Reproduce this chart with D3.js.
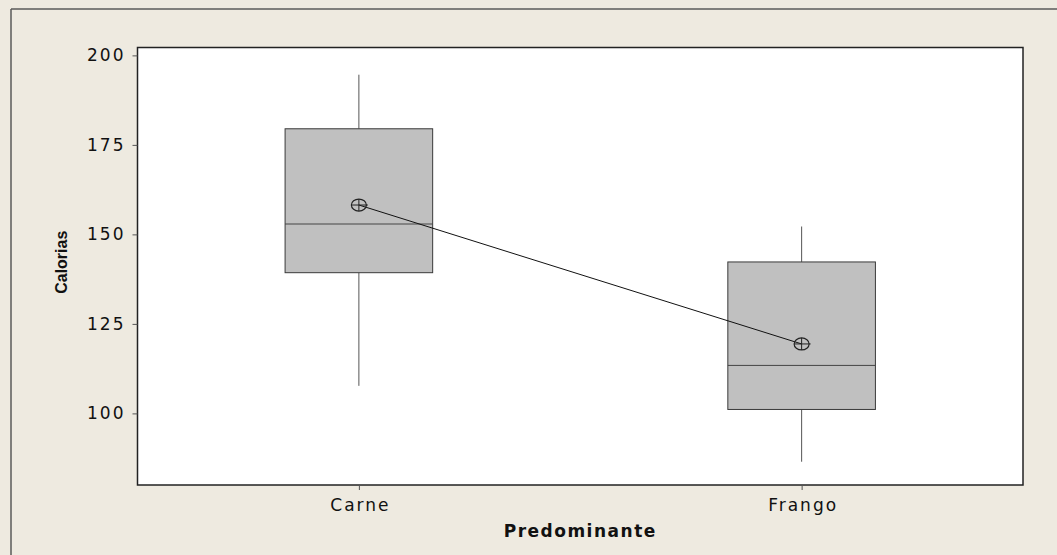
<!DOCTYPE html>
<html>
<head>
<meta charset="utf-8">
<script src="https://cdn.jsdelivr.net/npm/d3@7"></script>
<style>
  body { margin: 0; background: #EEEAE0; }
  text { font-family: "DejaVu Sans", Verdana, sans-serif; fill: #111; }
</style>
</head>
<body>
<div id="chart"></div>
<script>
// data
var categories  = ["Carne", "Frango"];
var whiskerLow  = [107.7, 86.5];
var q1          = [139.3, 101.1];
var medians     = [152.9, 113.4];
var q3          = [179.5, 142.3];
var whiskerHigh = [194.6, 152.2];
var means       = [158.2, 119.4];
var yTicks      = [100, 125, 150, 175, 200];

var W = 1057, H = 555;
var margin = {top: 47.5, right: 34, bottom: 70, left: 137.5},
    width  = W - margin.left - margin.right,
    height = H - margin.top - margin.bottom;

var svg = d3.select("#chart").append("svg")
    .attr("width", W)
    .attr("height", H);

// beige page + frame on top / left
svg.append("rect").attr("width", W).attr("height", H).attr("fill", "#EEEAE0");
svg.append("line").attr("x1", 11).attr("x2", W).attr("y1", 9).attr("y2", 9)
    .attr("stroke", "#5a5a5a").attr("stroke-width", 1.5);
svg.append("line").attr("x1", 11).attr("x2", 11).attr("y1", 9).attr("y2", H)
    .attr("stroke", "#5a5a5a").attr("stroke-width", 1.5);

var g = svg.append("g")
    .attr("transform", "translate(" + margin.left + "," + margin.top + ")");

g.append("rect")
    .attr("width", width).attr("height", height)
    .attr("fill", "white");

var x = d3.scalePoint()
    .domain(categories)
    .range([0, width])
    .padding(0.5);

var y = d3.scaleLinear()
    .domain([80, 202.2])
    .range([height, 0]);

var boxW = x.step() / 3;

var rows = categories.map(function(c, i) {
  return {name: c, lo: whiskerLow[i], q1: q1[i], med: medians[i],
          q3: q3[i], hi: whiskerHigh[i], mean: means[i]};
});

// whiskers
g.selectAll(".whisk-up").data(rows).enter().append("line")
    .attr("x1", d => x(d.name)).attr("x2", d => x(d.name))
    .attr("y1", d => y(d.q3)).attr("y2", d => y(d.hi))
    .attr("stroke", "#555").attr("stroke-width", 1);
g.selectAll(".whisk-down").data(rows).enter().append("line")
    .attr("x1", d => x(d.name)).attr("x2", d => x(d.name))
    .attr("y1", d => y(d.q1)).attr("y2", d => y(d.lo))
    .attr("stroke", "#555").attr("stroke-width", 1);

// boxes
g.selectAll(".box").data(rows).enter().append("rect")
    .attr("x", d => x(d.name) - boxW / 2)
    .attr("y", d => y(d.q3))
    .attr("width", boxW)
    .attr("height", d => y(d.q1) - y(d.q3))
    .attr("fill", "#C0C0C0")
    .attr("stroke", "#3a3a3a").attr("stroke-width", 1);

// medians
g.selectAll(".median").data(rows).enter().append("line")
    .attr("x1", d => x(d.name) - boxW / 2).attr("x2", d => x(d.name) + boxW / 2)
    .attr("y1", d => y(d.med)).attr("y2", d => y(d.med))
    .attr("stroke", "#444").attr("stroke-width", 1);

// connect line through means
var meanLine = d3.line().x(d => x(d.name)).y(d => y(d.mean));
g.append("path").datum(rows)
    .attr("d", meanLine)
    .attr("fill", "none").attr("stroke", "#111").attr("stroke-width", 1);

// mean symbols: circle with cross
var sym = g.selectAll(".mean").data(rows).enter().append("g")
    .attr("transform", d => "translate(" + x(d.name) + "," + y(d.mean) + ")");
sym.append("ellipse").attr("rx", 7.5).attr("ry", 6)
    .attr("fill", "none").attr("stroke", "#222").attr("stroke-width", 1.2);
sym.append("line").attr("x1", -7.5).attr("x2", 9).attr("y1", 0).attr("y2", 0)
    .attr("stroke", "#222").attr("stroke-width", 1);
sym.append("line").attr("x1", 0).attr("x2", 0).attr("y1", -6).attr("y2", 6)
    .attr("stroke", "#222").attr("stroke-width", 1);

// plot border
g.append("rect")
    .attr("width", width).attr("height", height)
    .attr("fill", "none")
    .attr("stroke", "#222").attr("stroke-width", 1.5);

// axes
var yAxis = g.append("g")
    .call(d3.axisLeft(y).tickValues(yTicks).tickSize(5).tickPadding(7));
var xAxis = g.append("g")
    .attr("transform", "translate(0," + height + ")")
    .call(d3.axisBottom(x).tickSize(5).tickPadding(9));

[yAxis, xAxis].forEach(function(a) {
  a.select(".domain").remove();
  a.selectAll(".tick line").attr("stroke", "#555");
  a.selectAll("text")
    .style("font-family", "'DejaVu Sans', Verdana, sans-serif")
    .style("font-size", "17px")
    .style("letter-spacing", "2px")
    .attr("fill", "#111");
});
xAxis.selectAll("text").attr("dx", "1px");

// axis titles
svg.append("text")
    .attr("x", margin.left + width / 2)
    .attr("y", 536.5)
    .attr("text-anchor", "middle")
    .style("font-size", "17px")
    .style("font-weight", "bold")
    .style("letter-spacing", "1.5px")
    .text("Predominante");

svg.append("text")
    .attr("transform", "translate(67," + (margin.top + height / 2 - 4) + ") rotate(-90)")
    .attr("text-anchor", "middle")
    .style("font-family", "'Liberation Sans', Arial, sans-serif")
    .style("font-size", "16px")
    .style("font-weight", "bold")
    .text("Calorias");
</script>
</body>
</html>
